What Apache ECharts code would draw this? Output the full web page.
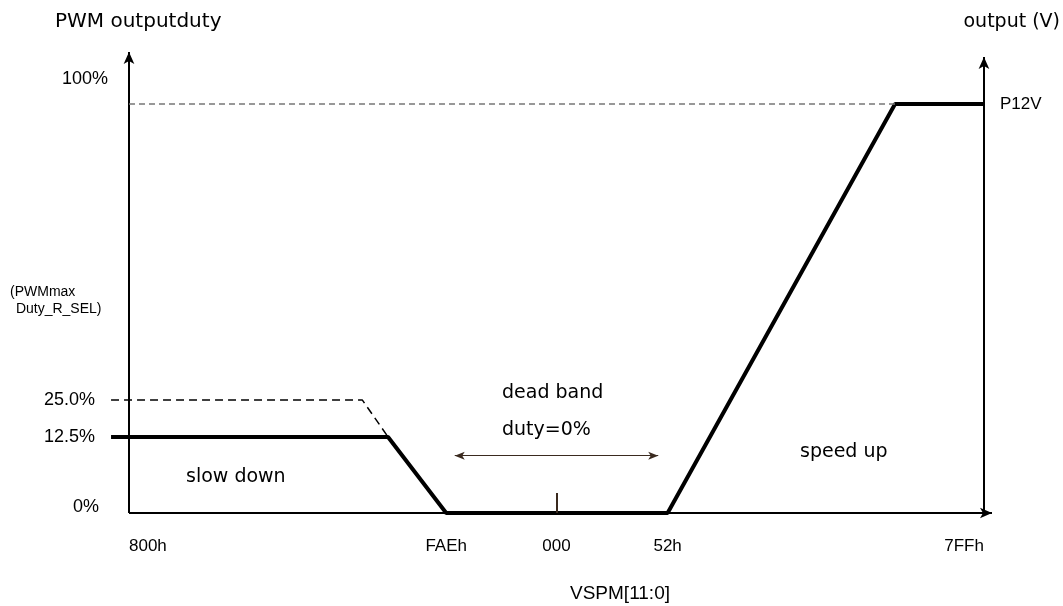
<!DOCTYPE html>
<html>
<head>
<meta charset="utf-8">
<script src="https://cdn.jsdelivr.net/npm/echarts@6/dist/echarts.min.js"></script>
<style>
  html, body { margin: 0; background: #fff; }
  #chart { width: 1063px; height: 606px; }
</style>
</head>
<body>
<div id="chart"></div>
<script>
// schematic scale: x 0 = 800h axis, 100 = 7FFh axis ; y 0 = 0%, 100 = 100% (P12V)
const xTickLabels = ['800h', 'FAEh', '000', '52h', '7FFh']
const xTickPos = [0, 37.1, 50, 63, 100]
const yTickLabels = ['0%', '12.5%', '25.0%', '100%']
const yTickPos = [0, 18.6, 27.6, 100]

// output duty (thick line)
const dutyX = [-2.1, 30.3, 37.1, 63, 89.6, 100]
const dutyY = [18.6, 18.6, 0, 0, 100, 100]
// PWM max duty setting 25% (dashed)
const maxDutyX = [-2.1, 27.3, 30.3]
const maxDutyY = [27.6, 27.6, 18.6]

// dead band region
const deadBandStart = 37.1
const deadBandEnd = 63
const centerPos = 50

const X_MIN = -2.3, X_MAX = 100.94, Y_MAX = 112.71

const FONT = '"DejaVu Sans", sans-serif'
const LFONT = '"Liberation Sans", Arial, sans-serif'

const chart = echarts.init(document.getElementById('chart'))

const xAlign = i => (i === 0 ? 'left' : i === xTickLabels.length - 1 ? 'right' : 'center')
const yOffset = [[-30, -6], [-34, 0], [-34, 0], [-21, -25]]

const labelData = [
  ...xTickLabels.map((t, i) => ({
    value: [xTickPos[i], 0],
    label: { formatter: t, align: xAlign(i), offset: [0, 33], fontSize: 17 }
  })),
  ...yTickLabels.map((t, i) => ({
    value: [0, yTickPos[i]],
    label: { formatter: t, align: 'right', offset: yOffset[i], fontSize: 18 }
  }))
]

const txt = (text, x, y, size, align, family) => ({
  type: 'text',
  style: {
    text, x, y,
    fill: '#000',
    fontSize: size,
    fontFamily: family || FONT,
    textAlign: align || 'left',
    textVerticalAlign: 'middle'
  }
})

const axisStyle = { color: '#000', width: 2, type: 'solid' }

chart.setOption({
  animation: false,
  grid: { left: 109.335, right: 71, top: 52, bottom: 93 },
  xAxis: {
    type: 'value', min: X_MIN, max: X_MAX,
    splitLine: { show: false }, axisTick: { show: false }, axisLabel: { show: false }, axisLine: { show: false }
  },
  yAxis: {
    type: 'value', min: 0, max: Y_MAX,
    splitLine: { show: false }, axisTick: { show: false }, axisLabel: { show: false }, axisLine: { show: false }
  },
  series: [
    {
      name: 'guides',
      type: 'line',
      data: [],
      markLine: {
        silent: true,
        symbol: ['none', 'none'],
        label: { show: false },
        lineStyle: { color: '#000', width: 1, type: [6, 4] },
        data: [
          // axes
          [{ coord: [0, 0], lineStyle: axisStyle }, { coord: [X_MAX, 0], symbol: 'arrow', symbolSize: [8, 12] }],
          [{ coord: [0, 0], lineStyle: axisStyle }, { coord: [0, Y_MAX], symbol: 'arrow', symbolSize: [8, 12] }],
          [{ coord: [100, 0], lineStyle: axisStyle }, { coord: [100, 111.5], symbol: 'arrow', symbolSize: [8, 12] }],
          // 100% level
          [{ coord: [0, 100], lineStyle: { color: '#777', width: 1.5, type: [6, 4] } }, { coord: [89.6, 100] }],
          // dead band borders
          [{ coord: [deadBandStart, 39.4] }, { coord: [deadBandStart, -4.5] }],
          [{ coord: [deadBandEnd, 39.4] }, { coord: [deadBandEnd, -4.5] }],
          [{ coord: [38.1, 14], symbol: 'arrow', symbolSize: [6, 10], lineStyle: { color: '#3a2a1f', width: 1.2, type: 'solid' } },
           { coord: [61.9, 14], symbol: 'arrow', symbolSize: [6, 10] }],
          [{ coord: [centerPos, 0], lineStyle: { color: '#3a2a1f', width: 2, type: 'solid' } }, { coord: [centerPos, 4.9] }]
        ]
      }
    },
    {
      name: 'maxDuty',
      type: 'line',
      symbol: 'none',
      lineStyle: { color: '#000', width: 1.5, type: [8, 5] },
      data: maxDutyX.map((x, i) => [x, maxDutyY[i]])
    },
    {
      name: 'duty',
      type: 'line',
      symbol: 'none',
      lineStyle: { color: '#000', width: 4 },
      data: dutyX.map((x, i) => [x, dutyY[i]])
    },
    {
      name: 'tickLabels',
      type: 'scatter',
      clip: false,
      silent: true,
      symbolSize: 0,
      itemStyle: { opacity: 1, color: '#000' },
      label: {
        show: true, position: [0, 0], verticalAlign: 'middle',
        color: '#000', fontFamily: LFONT
      },
      data: labelData
    }
  ],
  graphic: [
    txt('PWM outputduty', 55, 22, 20),
    txt('output (V)', 1060, 22, 19, 'right'),
    txt('P12V', 1000, 104, 17, 'left', LFONT),
    txt('(PWMmax', 10, 292, 14, 'left', LFONT),
    txt(' Duty_R_SEL)', 12, 309, 14, 'left', LFONT),
    txt('dead band', 502, 393, 19),
    txt('duty=0%', 502, 430, 19),
    txt('slow down', 186, 477, 19),
    txt('speed up', 800, 452, 19),
    txt('VSPM[11:0]', 620, 594, 19, 'center', LFONT)
  ]
})

window.addEventListener('resize', () => chart.resize())
</script>
</body>
</html>
